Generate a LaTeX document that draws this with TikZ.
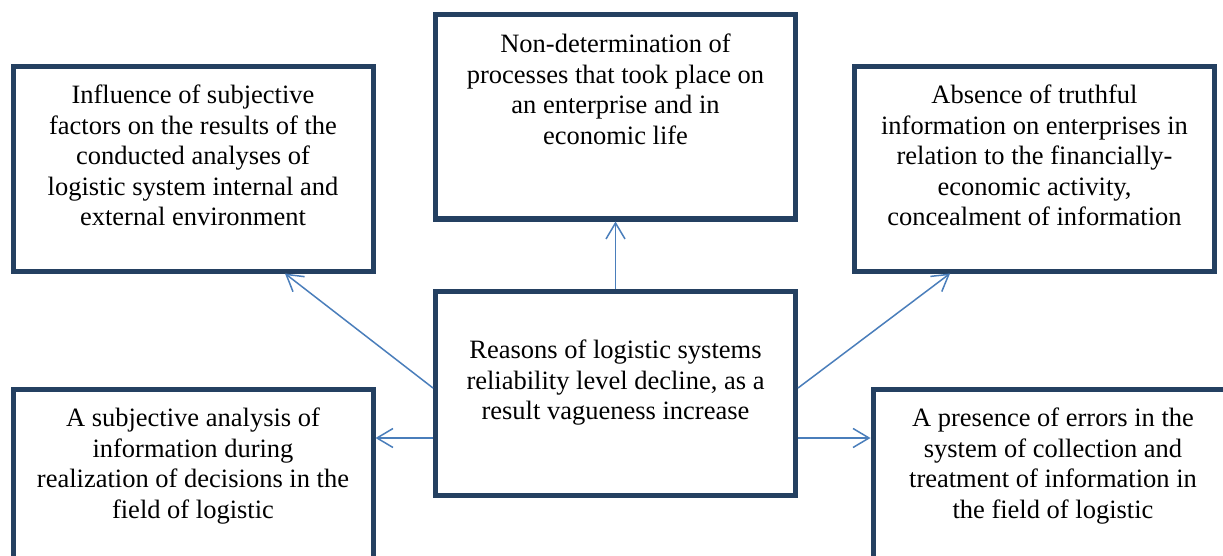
\documentclass[tikz,border=0pt]{standalone}
\usepackage{fontspec}
\setmainfont{Liberation Serif}
\usepackage{tikz}
\usetikzlibrary{arrows.meta}
\usetikzlibrary{positioning}
\definecolor{boxnavy}{RGB}{36,64,97}
\definecolor{arrowblue}{RGB}{74,126,187}

\begin{document}
\begin{tikzpicture}[x=1pt,y=-1pt,
  box/.style={draw=boxnavy,line width=5pt,inner sep=0pt,minimum width=360pt,minimum height=204pt},
  txt/.style={align=center,inner sep=0pt,font=\fontsize{26.5}{30.5}\selectfont},
  conn/.style={draw=arrowblue,line width=1.5pt,-{Straight Barb[length=16pt,width=19pt]}}]

  \useasboundingbox (0,0) rectangle (1223,556);
  \fill[white] (0,0) rectangle (1223,556);
  \clip (0,0) rectangle (1223,556);

  % boxes
  \node[box] (tl) at (193,169) {};
  \node[box] (tc) at (615.5,117) {};
  \node[box] (tr) at (1034.5,169) {};
  \node[box] (c) at (615.5,393) {};
  \node[box] (bl) at (193,491) {};
  \node[box] (br) at (1053,491) {};

  % texts
  \node[txt,below=20.5pt of tl.north] (tltxt) {Influence of subjective\\factors on the results of the\\conducted analyses of\\logistic system internal and\\external environment};
  \node[txt,below=21.5pt of tc.north] (tctxt) {Non-determination of\\processes that took place on\\an enterprise and in\\economic life};
  \node[txt,below=20.5pt of tr.north] (trtxt) {Absence of truthful\\information on enterprises in\\relation to the financially-\\economic activity,\\concealment of information};
  \node[txt,below=51.5pt of c.north] (ctxt) {Reasons of logistic systems\\reliability level decline, as a\\result vagueness increase};
  \node[txt,below=21.5pt of bl.north] (bltxt) {A subjective analysis of\\information during\\realization of decisions in the\\field of logistic};
  \node[txt,below=21.5pt of br.north] (brtxt) {A presence of errors in the\\system of collection and\\treatment of information in\\the field of logistic};

  % arrows
  \draw[conn] (c.north) -- (tc.south);
  \draw[conn] ([yshift=5pt]c.west) -- ([xshift=92pt]tl.south);
  \draw[conn] ([yshift=5pt]c.east) -- ([xshift=-84.5pt]tr.south);
  \draw[conn] ([yshift=-45pt]c.west) coordinate (cw) -- (cw -| bl.east);
  \draw[conn] ([yshift=-45pt]c.east) coordinate (ce) -- (ce -| br.west);

\end{tikzpicture}
\end{document}
